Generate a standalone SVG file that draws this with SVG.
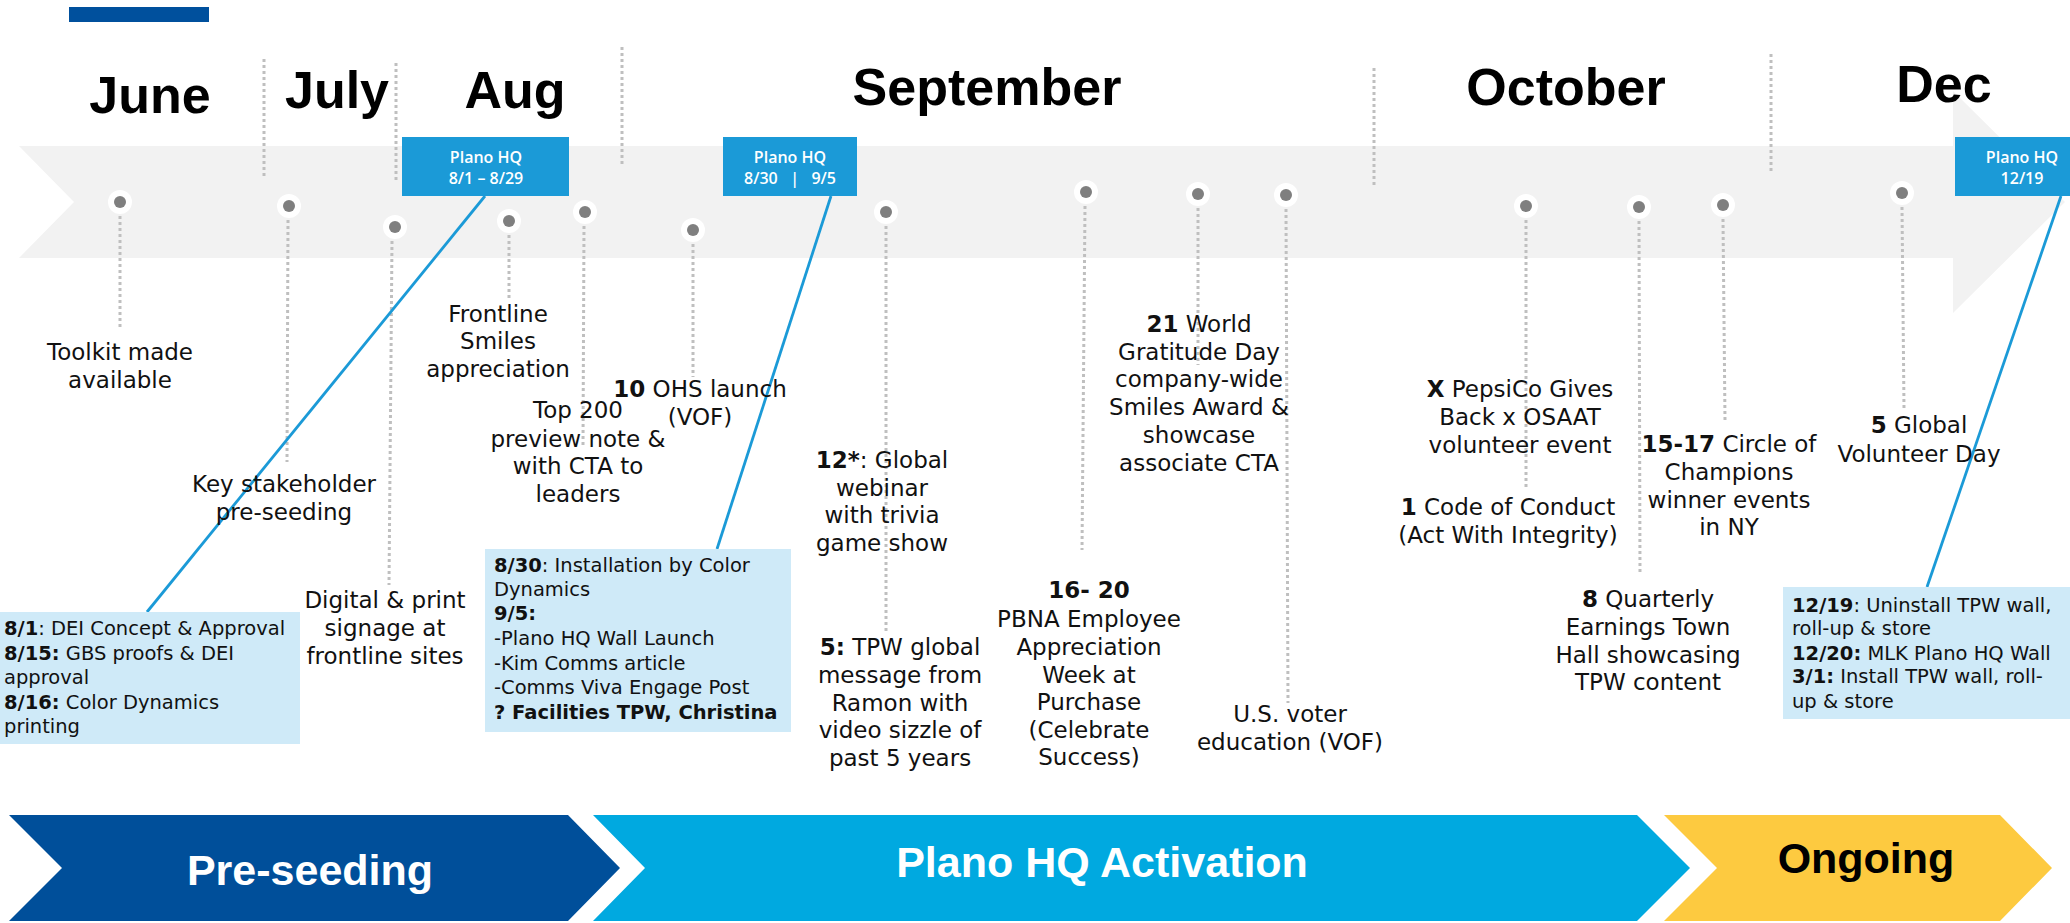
<svg xmlns="http://www.w3.org/2000/svg" width="2070" height="923" viewBox="0 0 2070 923">
<style>
.month{font-family:"Liberation Sans",Arial,sans-serif;font-weight:bold;font-size:52px;fill:#000;text-anchor:middle}
.lbl{font-family:"DejaVu Sans",sans-serif;font-size:23px;fill:#111;text-anchor:middle}
.box{font-family:"DejaVu Sans",sans-serif;font-size:19.5px;fill:#111}
.b{font-weight:bold}
.hq{font-family:"Open Sans",sans-serif;font-weight:600;font-size:16px;fill:#fff;text-anchor:middle}
.phase{font-family:"Liberation Sans",Arial,sans-serif;font-weight:bold;font-size:43px;text-anchor:middle}
.sep{stroke:#bfbfbf;stroke-width:3;stroke-dasharray:3 3;fill:none}
.conn{stroke:#1b9ad7;stroke-width:2.8;fill:none}
.ring{fill:#fff}
.dot{fill:#7f7f7f}
.hqbox{fill:#1b9ad7}
.note{fill:#cfeaf8}
</style>
<rect x="69" y="7" width="140" height="15" fill="#00509d"/>
<polygon id="band" points="19,146 1953,146 1953,91 2065,202 1953,313 1953,258 19,258 74,202" fill="#f2f2f2"/>
<g id="separators">
<line class="sep" x1="264" y1="59" x2="264" y2="178"/>
<line class="sep" x1="396" y1="63" x2="396" y2="183"/>
<line class="sep" x1="622" y1="47" x2="622" y2="167"/>
<line class="sep" x1="1374" y1="68" x2="1374" y2="187"/>
<line class="sep" x1="1771" y1="54" x2="1771" y2="173"/>
</g>
<g id="months">
<text class="month" x="150" y="113">June</text>
<text class="month" x="337" y="108">July</text>
<text class="month" x="515" y="108">Aug</text>
<text class="month" x="987" y="105">September</text>
<text class="month" x="1566" y="105">October</text>
<text class="month" x="1944" y="102">Dec</text>
</g>
<g id="connectors">
<line class="sep" x1="120" y1="216" x2="120" y2="328"/>
<line class="sep" x1="288" y1="220" x2="287" y2="462"/>
<line class="sep" x1="392" y1="241" x2="389" y2="585"/>
<line class="sep" x1="509" y1="235" x2="509" y2="300"/>
<line class="sep" x1="584" y1="226" x2="583" y2="445"/>
<line class="sep" x1="693" y1="244" x2="693" y2="377"/>
<line class="sep" x1="886" y1="226" x2="886" y2="633"/>
<line class="sep" x1="1085" y1="206" x2="1082" y2="550"/>
<line class="sep" x1="1198" y1="208" x2="1198" y2="365"/>
<line class="sep" x1="1286" y1="209" x2="1288" y2="703"/>
<line class="sep" x1="1526" y1="220" x2="1526" y2="490"/>
<line class="sep" x1="1639" y1="221" x2="1640" y2="573"/>
<line class="sep" x1="1723" y1="219" x2="1725" y2="420"/>
<line class="sep" x1="1902" y1="207" x2="1904" y2="408"/>
<line class="conn" x1="485" y1="196" x2="147" y2="612"/>
<line class="conn" x1="831" y1="196" x2="717" y2="549"/>
<line class="conn" x1="2061" y1="196" x2="1927" y2="587"/>
</g>
<g id="dots">
<g id="dot1"><circle class="ring" cx="120" cy="202" r="12"/><circle class="dot" cx="120" cy="202" r="6"/></g>
<g id="dot2"><circle class="ring" cx="289" cy="206" r="12"/><circle class="dot" cx="289" cy="206" r="6"/></g>
<g id="dot3"><circle class="ring" cx="395" cy="227" r="12"/><circle class="dot" cx="395" cy="227" r="6"/></g>
<g id="dot4"><circle class="ring" cx="509" cy="221" r="12"/><circle class="dot" cx="509" cy="221" r="6"/></g>
<g id="dot5"><circle class="ring" cx="585" cy="212" r="12"/><circle class="dot" cx="585" cy="212" r="6"/></g>
<g id="dot6"><circle class="ring" cx="693" cy="230" r="12"/><circle class="dot" cx="693" cy="230" r="6"/></g>
<g id="dot7"><circle class="ring" cx="886" cy="212" r="12"/><circle class="dot" cx="886" cy="212" r="6"/></g>
<g id="dot8"><circle class="ring" cx="1086" cy="192" r="12"/><circle class="dot" cx="1086" cy="192" r="6"/></g>
<g id="dot9"><circle class="ring" cx="1198" cy="194" r="12"/><circle class="dot" cx="1198" cy="194" r="6"/></g>
<g id="dot10"><circle class="ring" cx="1286" cy="195" r="12"/><circle class="dot" cx="1286" cy="195" r="6"/></g>
<g id="dot11"><circle class="ring" cx="1526" cy="206" r="12"/><circle class="dot" cx="1526" cy="206" r="6"/></g>
<g id="dot12"><circle class="ring" cx="1639" cy="207" r="12"/><circle class="dot" cx="1639" cy="207" r="6"/></g>
<g id="dot13"><circle class="ring" cx="1723" cy="205" r="12"/><circle class="dot" cx="1723" cy="205" r="6"/></g>
<g id="dot14"><circle class="ring" cx="1902" cy="193" r="12"/><circle class="dot" cx="1902" cy="193" r="6"/></g>
</g>
<g id="hq1"><rect class="hqbox" x="402" y="137" width="167" height="59"/><text class="hq" x="486" y="163">Plano HQ</text><text class="hq" x="486" y="184">8/1 – 8/29</text></g>
<g id="hq2"><rect class="hqbox" x="723" y="137" width="134" height="59"/><text class="hq" x="790" y="163">Plano HQ</text><text class="hq" x="790" y="184" xml:space="preserve">8/30   |   9/5</text></g>
<g id="hq3"><rect class="hqbox" x="1955" y="137" width="130" height="59"/><text class="hq" x="2022" y="163">Plano HQ</text><text class="hq" x="2022" y="184">12/19</text></g>
<g id="labels">
<g id="l1"><text class="lbl" x="120" y="360">Toolkit made</text><text class="lbl" x="120" y="388">available</text></g>
<g id="l2"><text class="lbl" x="284" y="492">Key stakeholder</text><text class="lbl" x="284" y="520">pre-seeding</text></g>
<g id="l3"><text class="lbl" x="385" y="608">Digital &amp; print</text><text class="lbl" x="385" y="636">signage at</text><text class="lbl" x="385" y="664">frontline sites</text></g>
<g id="l4"><text class="lbl" x="498" y="322">Frontline</text><text class="lbl" x="498" y="349">Smiles</text><text class="lbl" x="498" y="377">appreciation</text></g>
<g id="l5"><text class="lbl" x="578" y="418">Top 200</text><text class="lbl" x="578" y="447">preview note &amp;</text><text class="lbl" x="578" y="474">with CTA to</text><text class="lbl" x="578" y="502">leaders</text></g>
<g id="l6"><text class="lbl" x="700" y="397"><tspan class="b">10</tspan> OHS launch</text><text class="lbl" x="700" y="425">(VOF)</text></g>
<g id="l7"><text class="lbl" x="882" y="468"><tspan class="b">12*</tspan>: Global</text><text class="lbl" x="882" y="496">webinar</text><text class="lbl" x="882" y="523">with trivia</text><text class="lbl" x="882" y="551">game show</text></g>
<g id="l8"><text class="lbl" x="900" y="655"><tspan class="b">5:</tspan> TPW global</text><text class="lbl" x="900" y="683">message from</text><text class="lbl" x="900" y="711">Ramon with</text><text class="lbl" x="900" y="738">video sizzle of</text><text class="lbl" x="900" y="766">past 5 years</text></g>
<g id="l9"><text class="lbl b" x="1089" y="598">16- 20</text><text class="lbl" x="1089" y="627">PBNA Employee</text><text class="lbl" x="1089" y="655">Appreciation</text><text class="lbl" x="1089" y="683">Week at</text><text class="lbl" x="1089" y="710">Purchase</text><text class="lbl" x="1089" y="738">(Celebrate</text><text class="lbl" x="1089" y="765">Success)</text></g>
<g id="l10"><text class="lbl" x="1199" y="332"><tspan class="b">21</tspan> World</text><text class="lbl" x="1199" y="360">Gratitude Day</text><text class="lbl" x="1199" y="387">company-wide</text><text class="lbl" x="1199" y="415">Smiles Award &amp;</text><text class="lbl" x="1199" y="443">showcase</text><text class="lbl" x="1199" y="471">associate CTA</text></g>
<g id="l11"><text class="lbl" x="1290" y="722">U.S. voter</text><text class="lbl" x="1290" y="750">education (VOF)</text></g>
<g id="l12"><text class="lbl" x="1520" y="397"><tspan class="b">X</tspan> PepsiCo Gives</text><text class="lbl" x="1520" y="425">Back x OSAAT</text><text class="lbl" x="1520" y="453">volunteer event</text></g>
<g id="l13"><text class="lbl" x="1508" y="515"><tspan class="b">1</tspan> Code of Conduct</text><text class="lbl" x="1508" y="543">(Act With Integrity)</text></g>
<g id="l14"><text class="lbl" x="1648" y="607"><tspan class="b">8</tspan> Quarterly</text><text class="lbl" x="1648" y="635">Earnings Town</text><text class="lbl" x="1648" y="663">Hall showcasing</text><text class="lbl" x="1648" y="690">TPW content</text></g>
<g id="l15"><text class="lbl" x="1729" y="452"><tspan class="b">15-17</tspan> Circle of</text><text class="lbl" x="1729" y="480">Champions</text><text class="lbl" x="1729" y="508">winner events</text><text class="lbl" x="1729" y="535">in NY</text></g>
<g id="l16"><text class="lbl" x="1919" y="433"><tspan class="b">5</tspan> Global</text><text class="lbl" x="1919" y="462">Volunteer Day</text></g>
</g>
<g id="noteA"><rect class="note" x="0" y="612" width="300" height="132"/>
<text class="box" x="4" y="635"><tspan class="b">8/1</tspan>: DEI Concept &amp; Approval</text>
<text class="box" x="4" y="660"><tspan class="b">8/15:</tspan> GBS proofs &amp; DEI</text>
<text class="box" x="4" y="684">approval</text>
<text class="box" x="4" y="709"><tspan class="b">8/16:</tspan> Color Dynamics</text>
<text class="box" x="4" y="733">printing</text></g>
<g id="noteB"><rect class="note" x="485" y="549" width="306" height="183"/>
<text class="box" x="494" y="572"><tspan class="b">8/30</tspan>: Installation by Color</text>
<text class="box" x="494" y="596">Dynamics</text>
<text class="box b" x="494" y="620">9/5:</text>
<text class="box" x="494" y="645">-Plano HQ Wall Launch</text>
<text class="box" x="494" y="670">-Kim Comms article</text>
<text class="box" x="494" y="694">-Comms Viva Engage Post</text>
<text class="box b" x="494" y="719">? Facilities TPW, Christina</text></g>
<g id="noteC"><rect class="note" x="1783" y="587" width="287" height="132"/>
<text class="box" x="1792" y="612"><tspan class="b">12/19</tspan>: Uninstall TPW wall,</text>
<text class="box" x="1792" y="635">roll-up &amp; store</text>
<text class="box" x="1792" y="660"><tspan class="b">12/20:</tspan> MLK Plano HQ Wall</text>
<text class="box" x="1792" y="683"><tspan class="b">3/1:</tspan> Install TPW wall, roll-</text>
<text class="box" x="1792" y="708">up &amp; store</text></g>
<g id="phase1"><polygon points="9,815 568,815 620,868 568,921 9,921 62,868" fill="#004f9a"/><text class="phase" x="310" y="885" fill="#fff">Pre-seeding</text></g>
<g id="phase2"><polygon points="593,815 1637,815 1690,868 1637,921 593,921 645,868" fill="#00a9e0"/><text class="phase" x="1102" y="877" fill="#fff">Plano HQ Activation</text></g>
<g id="phase3"><polygon points="1664,815 2000,815 2052,868 2000,921 1664,921 1717,868" fill="#fdca40"/><text class="phase" x="1866" y="873" fill="#000">Ongoing</text></g>
</svg>
